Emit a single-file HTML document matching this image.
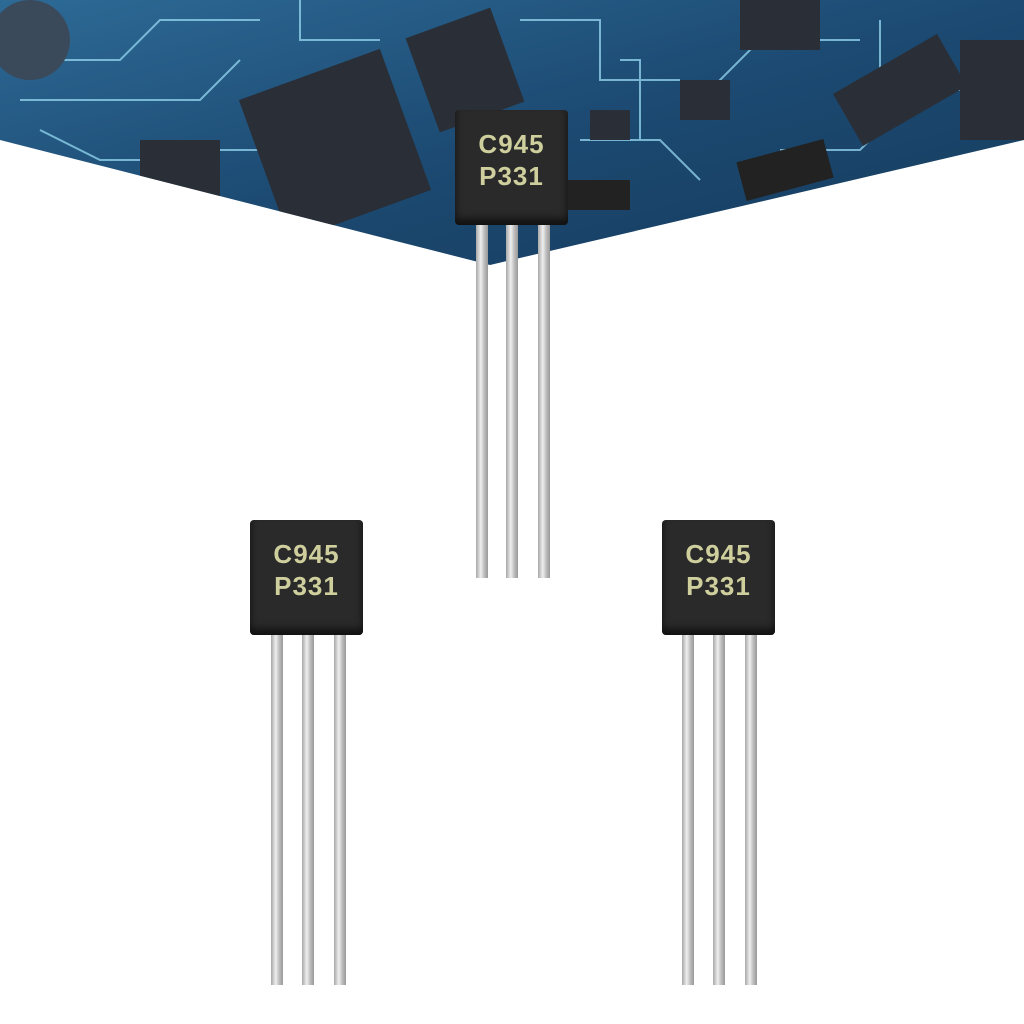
<!DOCTYPE html>
<html><head><style>
body{margin:0;width:1024px;height:1024px;background:#fff;position:relative;overflow:hidden;font-family:"Liberation Sans",sans-serif}
.t{position:absolute}
.body{position:absolute;width:113px;height:115px;background:#2a2a2a;border-radius:4px;box-shadow:inset 0 -6px 8px #111}
.body div{position:absolute;left:0;right:0;top:18px;text-align:center;color:#cfcf9e;font-size:26px;font-weight:bold;line-height:32px;letter-spacing:1px}
.leg{position:absolute;width:12px;background:linear-gradient(90deg,#a8a8a8,#eee 40%,#bbb 70%,#999)}
</style></head><body>
<svg class="t" style="left:0;top:0" width="1024" height="270">
<defs><clipPath id="c"><polygon points="0,0 1024,0 1024,140 490,265 0,140"/></clipPath>
<linearGradient id="g" x1="0" y1="0" x2="1" y2="1"><stop offset="0" stop-color="#2d6a96"/><stop offset="0.5" stop-color="#1c4a72"/><stop offset="1" stop-color="#163a5c"/></linearGradient></defs>
<g clip-path="url(#c)">
<rect width="1024" height="270" fill="url(#g)"/>
<g stroke="#8fd0ea" stroke-width="2" fill="none" opacity="0.8">
<path d="M0 60 H120 L160 20 H260"/><path d="M20 100 H200 L240 60"/><path d="M300 0 V40 H380"/>
<path d="M520 20 H600 V80 H680"/><path d="M700 100 L760 40 H860"/><path d="M580 140 H660 L700 180"/>
<path d="M880 20 V90 H960"/><path d="M200 150 H300 L340 190"/><path d="M40 130 L100 160 H180"/>
<path d="M620 60 H640 V140"/><path d="M780 150 H860 L900 110"/></g>
<rect x="260" y="70" width="150" height="150" fill="#2a2e36" transform="rotate(-20 335 145)"/>
<rect x="420" y="20" width="90" height="100" fill="#2a2e36" transform="rotate(-20 465 70)"/>
<rect x="140" y="140" width="80" height="60" fill="#2a2e36"/>
<rect x="740" y="0" width="80" height="50" fill="#2a2e36"/>
<rect x="840" y="60" width="120" height="60" fill="#2a2e36" transform="rotate(-30 900 90)"/>
<rect x="680" y="80" width="50" height="40" fill="#2a2e36"/>
<rect x="590" y="110" width="40" height="30" fill="#2a2e36"/>
<rect x="740" y="150" width="90" height="40" fill="#222" transform="rotate(-15 785 170)"/>
<rect x="550" y="180" width="80" height="30" fill="#222"/>
<circle cx="30" cy="40" r="40" fill="#3a4a5a"/>
<rect x="960" y="40" width="64" height="100" fill="#2a2e36"/>
</g></svg>

<div class="leg" style="left:476px;top:220px;height:358px"></div>
<div class="leg" style="left:506px;top:220px;height:358px"></div>
<div class="leg" style="left:538px;top:220px;height:358px"></div>
<div class="body" style="left:455px;top:110px"><div>C945<br>P331</div></div>

<div class="leg" style="left:271px;top:630px;height:355px"></div>
<div class="leg" style="left:302px;top:630px;height:355px"></div>
<div class="leg" style="left:334px;top:630px;height:355px"></div>
<div class="body" style="left:250px;top:520px"><div>C945<br>P331</div></div>

<div class="leg" style="left:682px;top:630px;height:355px"></div>
<div class="leg" style="left:713px;top:630px;height:355px"></div>
<div class="leg" style="left:745px;top:630px;height:355px"></div>
<div class="body" style="left:662px;top:520px"><div>C945<br>P331</div></div>
</body></html>
